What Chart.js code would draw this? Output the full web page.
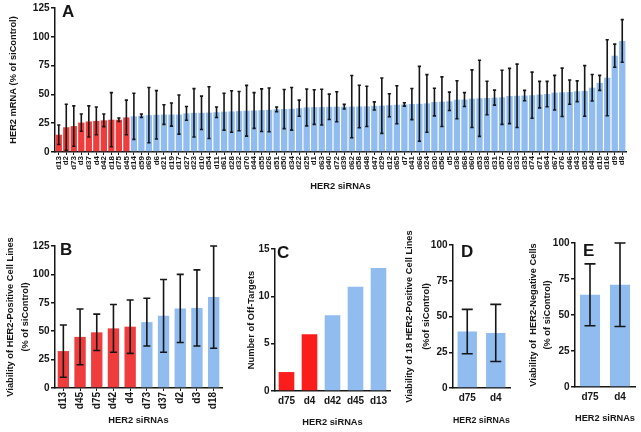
<!DOCTYPE html>
<html><head><meta charset="utf-8">
<script src="https://cdn.jsdelivr.net/npm/chart.js@4/dist/chart.umd.min.js"></script>
<style>
html,body{margin:0;padding:0;background:#fff;}
#wrap{position:relative;width:641px;height:432px;overflow:hidden;background:#fff;}
canvas{position:absolute;}
</style></head><body>
<div id="wrap">
<canvas id="cA" width="641" height="195" style="left:0;top:0;width:641px;height:195px"></canvas>
<canvas id="cB" width="235" height="232" style="left:0;top:200px;width:235px;height:232px"></canvas>
<canvas id="cC" width="170" height="232" style="left:230px;top:200px;width:170px;height:232px"></canvas>
<canvas id="cD" width="120" height="232" style="left:400px;top:200px;width:120px;height:232px"></canvas>
<canvas id="cE" width="121" height="232" style="left:520px;top:200px;width:121px;height:232px"></canvas>
</div>
<script>
// ---------------- DATA ----------------
const labelsA = ['d13','d2','d73','d3','d37','d4','d42','d18','d75','d45','d14','d59','d69','d6','d21','d19','d17','d27','d23','d10','d54','d11','d61','d28','d32','d70','d44','d55','d26','d51','d50','d34','d22','d25','d1','d63','d40','d72','d39','d62','d58','d48','d47','d29','d12','d65','d7','d41','d66','d24','d30','d56','d5','d36','d68','d60','d53','d38','d31','d57','d20','d33','d35','d74','d71','d64','d67','d76','d46','d43','d52','d49','d15','d16','d9','d8'];
const mrnaA = [15,21.5,22.5,25.5,26.5,27,27.5,28,28,30,31,31.5,32,32.3,32.5,32.5,32.5,33.5,34,34,34.2,34.5,35,35.2,35.5,35.8,36,36.3,36.6,37,37.3,37.5,38,38.7,39,39,39.2,39.3,39.3,39.4,39.5,39.6,40,40.2,40.6,41,41.3,41.6,41.8,42.2,43.4,43.7,44,45.4,45.5,46.3,46.6,46.9,47.2,47.5,48.6,48.8,49,49.3,49.8,50.3,51.5,51.8,52,52.7,53,55.8,60,64.5,83.6,96.4];
const mrnaErrA = [8.5,20,17.5,7.5,13.5,12,5.5,23.5,1.5,15,20,1.5,24,21,8.5,10,17,6,21,14.5,22.5,4.5,16,18,17,22,15.5,18.5,19,2,17,18.5,7,16,15,15.5,11,13,2,27,18.5,17.5,3.5,24,10,16.5,1.5,13.5,32.5,25,12,21.5,8,16.5,6,25,33,14.5,6.5,23.5,24,27.5,4.5,20,11.5,11,15,21,10.5,9,22,11.5,6.5,33,10,18.5];
const ticksA = [0,25,50,75,100,125];

const labelsB = ['d13','d45','d75','d42','d4','d73','d37','d2','d3','d18'];
const viabB = [32.5,45,49,52.5,54,58,63.5,70,70.5,80];
const viabErrB = [23,24.5,16,21,23.5,21,32,30,33.5,45];

const labelsC = ['d75','d4','d42','d45','d13'];
const offTargetsC = [2,6,8,11,13];

const labelsDE = ['d75','d4'];
const viabD = [39.5,38.5];
const viabErrD = [15.5,20];
const viabE = [64,71];
const viabErrE = [21.5,29];

// ---------------- STYLE ----------------
const FF = '"Liberation Sans", Arial, sans-serif';
const INK = '#161616';
const RED = '#ef3d3d';
const RED_C = '#fb1c1c';
const BLUE = '#90bcf0';

const errorBars = {
  id: 'errorBars',
  afterDatasetsDraw(chart, args, opts) {
    const ds = chart.data.datasets[0];
    if (!ds.errors) return;
    const meta = chart.getDatasetMeta(0);
    const y = chart.scales.y;
    const ctx = chart.ctx;
    ctx.save();
    ctx.strokeStyle = INK;
    ctx.lineWidth = opts.width || 1.5;
    meta.data.forEach((bar, i) => {
      const v = ds.data[i], e = ds.errors[i];
      const x = bar.x;
      const yt = y.getPixelForValue(v + e), yb = y.getPixelForValue(v - e);
      const c = opts.cap;
      ctx.beginPath();
      ctx.moveTo(x, yt); ctx.lineTo(x, yb);
      ctx.moveTo(x - c, yt); ctx.lineTo(x + c, yt);
      ctx.moveTo(x - c, yb); ctx.lineTo(x + c, yb);
      ctx.stroke();
    });
    ctx.restore();
  }
};
const letterPlugin = {
  id: 'letter',
  afterDraw(chart, args, opts) {
    if (!opts.text) return;
    const ctx = chart.ctx;
    ctx.save();
    ctx.fillStyle = INK;
    ctx.font = 'bold 17px ' + FF;
    ctx.textBaseline = 'alphabetic';
    ctx.fillText(opts.text, opts.x, opts.y);
    ctx.restore();
  }
};

function yScale(o) {
  return {
    min: 0, max: o.max,
    ticks: { stepSize: o.step, color: INK, font: { family: FF, weight: 'bold', size: 10 }, padding: 1.5 },
    grid: { display: true, drawOnChartArea: false, drawTicks: true, tickLength: 4, color: INK, lineWidth: 1.5 },
    border: { display: true, color: INK, width: 1.5 },
    title: { display: true, text: o.title, color: INK,
      font: { family: FF, weight: 'bold', size: 9.3, lineHeight: o.lh || 1.2 },
      padding: { top: o.titlePad, bottom: 0 } },
    afterFit(s) { s.width = o.width; }
  };
}
function xScale(o) {
  return {
    offset: true,
    ticks: { autoSkip: false, maxRotation: o.rot, minRotation: o.rot, color: INK,
      font: { family: FF, weight: 'bold', size: o.fs }, padding: o.tpad },
    grid: { display: o.tl > 0, drawOnChartArea: false, drawTicks: o.tl > 0, tickLength: o.tl, color: INK, lineWidth: 1, offset: false },
    border: { display: true, color: INK, width: 1.5 },
    title: { display: true, text: 'HER2 siRNAs', color: INK,
      font: { family: FF, weight: 'bold', size: 9.3 },
      padding: { top: 0, bottom: o.titlePad } },
    afterFit(s) { s.height = o.height; }
  };
}
function colors(n, k, red) { return Array.from({length: n}, (_, i) => i < k ? red : BLUE); }

function make(id, o) {
  return new Chart(document.getElementById(id), {
    type: 'bar',
    data: { labels: o.labels, datasets: [{ data: o.data, errors: o.errors,
      backgroundColor: colors(o.labels.length, o.red, o.redColor || RED),
      borderWidth: 0, barPercentage: o.bp, categoryPercentage: 1 }] },
    options: {
      responsive: false, animation: false, devicePixelRatio: 1,
      layout: { padding: o.pad },
      plugins: { legend: { display: false }, tooltip: { enabled: false },
        errorBars: { cap: o.cap, width: o.ew }, letter: o.letter },
      scales: { x: xScale(o.x), y: yScale(o.y) }
    },
    plugins: [errorBars, letterPlugin]
  });
}

make('cA', {
  labels: labelsA, data: mrnaA, errors: mrnaErrA, red: 10, bp: 0.84, cap: 1.6, ew: 1.6,
  pad: { top: 8, right: 15, left: 0, bottom: 0 },
  letter: { text: 'A', x: 62, y: 17 },
  x: { rot: 90, fs: 8, tpad: 1, tl: 3, height: 43, titlePad: 3.4 },
  y: { max: 125, step: 25, width: 55, title: 'HER2 mRNA (% of siControl)', titlePad: 7.4 }
});
make('cB', {
  labels: labelsB, data: viabB, errors: viabErrB, red: 5, bp: 0.68, cap: 3.5, ew: 1.6,
  pad: { top: 46, right: 13, left: 0, bottom: 0 },
  letter: { text: 'B', x: 60, y: 55 },
  x: { rot: 90, fs: 10, tpad: 1, tl: 3, height: 44, titlePad: 6.3 },
  y: { max: 125, step: 25, width: 55, title: ['Viability of HER2-Positive Cell Lines', '(% of siControl)'], titlePad: 2.5, lh: 1.65 }
});
make('cC', {
  labels: labelsC, data: offTargetsC, red: 2, redColor: RED_C, bp: 0.68, cap: 0, ew: 0,
  pad: { top: 49, right: 10, left: 0, bottom: 0 },
  letter: { text: 'C', x: 47, y: 58 },
  x: { rot: 0, fs: 10, tpad: 4, tl: 0, height: 41, titlePad: 4.3 },
  y: { max: 15, step: 5, width: 45, title: 'Number of Off-Targets', titlePad: 16.3 }
});
make('cD', {
  labels: labelsDE, data: viabD, errors: viabErrD, red: 0, bp: 0.68, cap: 5.5, ew: 1.6,
  pad: { top: 45, right: 10, left: 0, bottom: 0 },
  letter: { text: 'D', x: 61, y: 57 },
  x: { rot: 0, fs: 10, tpad: 4, tl: 0, height: 44, titlePad: 6.3 },
  y: { max: 100, step: 25, width: 53, title: ['Viability of 18 HER2-Positive Cell Lines', '(%of siControl)'], titlePad: 1.5, lh: 1.8 }
});
make('cE', {
  labels: labelsDE, data: viabE, errors: viabErrE, red: 0, bp: 0.67, cap: 5.5, ew: 1.6,
  pad: { top: 43, right: 6, left: 0, bottom: 0 },
  letter: { text: 'E', x: 63, y: 56 },
  x: { rot: 0, fs: 10, tpad: 4, tl: 0, height: 45, titlePad: 8.3 },
  y: { max: 100, step: 25, width: 55, title: ['Viability of  HER2-Negative Cells', '(% of siControl)'], titlePad: 5.5, lh: 1.6 }
});
</script>
</body></html>
